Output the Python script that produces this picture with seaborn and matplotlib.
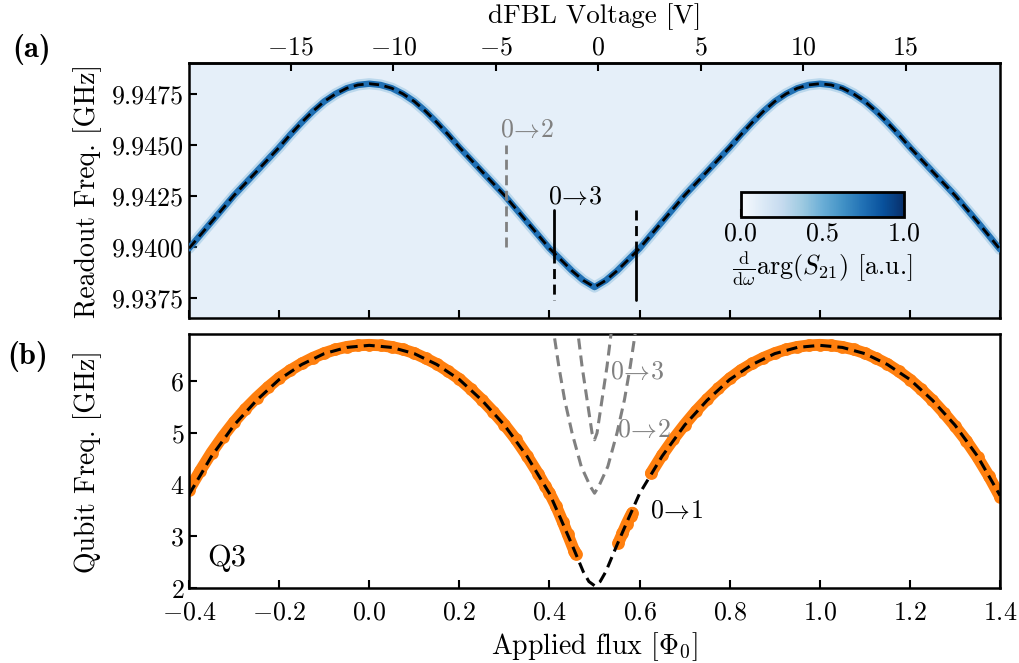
import matplotlib
matplotlib.use("Agg")
import matplotlib.pyplot as plt
import seaborn as sns
from matplotlib.cm import ScalarMappable
from matplotlib.colors import Normalize
from matplotlib.ticker import FormatStrFormatter

# ---------------- data ----------------
# (a) readout resonator frequency vs applied flux
ro_flux = [-0.40, -0.35, -0.30, -0.25, -0.20, -0.175, -0.15, -0.125, -0.10, -0.075, -0.05,
           -0.025, 0.00, 0.025, 0.05, 0.075, 0.10, 0.125, 0.15, 0.175,
           0.20, 0.25, 0.30, 0.35, 0.40, 0.45, 0.475, 0.50, 0.525, 0.55, 0.60, 0.65, 0.70,
           0.75, 0.80, 0.825, 0.85, 0.875, 0.90, 0.925, 0.95, 0.975, 1.00, 1.025, 1.05, 1.075,
           1.10, 1.125, 1.15, 1.175, 1.20, 1.25, 1.30, 1.35, 1.40]
ro_freq = [9.93995, 9.94125, 9.94255, 9.94372, 9.94490, 9.94553, 9.94612, 9.94667, 9.94715,
           9.94752, 9.94780, 9.94796, 9.94802, 9.94796, 9.94780, 9.94752, 9.94715, 9.94667,
           9.94612, 9.94553,
           9.94490, 9.94372, 9.94255, 9.94125, 9.93995, 9.93885, 9.93838, 9.93805, 9.93838,
           9.93885, 9.93995, 9.94125, 9.94255, 9.94372, 9.94490, 9.94553, 9.94612, 9.94667,
           9.94715, 9.94752, 9.94780, 9.94796, 9.94802, 9.94796, 9.94780, 9.94752, 9.94715,
           9.94667, 9.94612, 9.94553, 9.94490, 9.94372, 9.94255, 9.94125, 9.93990]
# 0->3 crossings in the readout fit (vertical features)
spike_flux = [0.411, 0.592]
spike_top = [9.94183, 9.94183]
spike_mid = [9.93970, 9.93977]
spike_bottom = [9.93742, 9.93742]
# 0->2 marker in panel (a)
mark02_flux = [0.304, 0.304]
mark02_freq = [9.9400, 9.9450]

# (b) qubit spectroscopy data (orange), three measured segments
segA_flux = [-0.40, -0.375, -0.35, -0.325, -0.30, -0.275, -0.25, -0.225, -0.20, -0.175, -0.15,
             -0.125, -0.10, -0.075, -0.05, -0.025, 0.00, 0.025, 0.05, 0.075, 0.10, 0.125, 0.15,
             0.175, 0.20, 0.225, 0.25, 0.275, 0.30, 0.325, 0.35, 0.375, 0.39, 0.40, 0.415, 0.43,
             0.44, 0.455, 0.458]
segA_freq = [3.90, 4.27, 4.62, 4.93, 5.21, 5.46, 5.68, 5.88, 6.06, 6.21, 6.34, 6.45, 6.54, 6.61,
             6.66, 6.69, 6.70, 6.69, 6.66, 6.61, 6.54, 6.44, 6.33, 6.19, 6.04, 5.85, 5.64, 5.41,
             5.16, 4.88, 4.56, 4.21, 3.98, 3.84, 3.58, 3.27, 3.05, 2.72, 2.66]
segB_flux = [0.553, 0.562, 0.571, 0.580, 0.584]
segB_freq = [2.88, 3.06, 3.24, 3.40, 3.46]
segC_flux = [0.625, 0.65, 0.675, 0.70, 0.725, 0.75, 0.775, 0.80, 0.825, 0.85, 0.875, 0.90, 0.925,
             0.95, 0.975, 1.00, 1.025, 1.05, 1.075, 1.10, 1.125, 1.15, 1.175, 1.20, 1.225, 1.25,
             1.275, 1.30, 1.325, 1.35, 1.375, 1.40]
segC_freq = [4.22, 4.57, 4.88, 5.16, 5.42, 5.65, 5.86, 6.05, 6.21, 6.34, 6.45, 6.54, 6.61, 6.66,
             6.69, 6.70, 6.69, 6.66, 6.61, 6.54, 6.44, 6.33, 6.19, 6.03, 5.84, 5.63, 5.39, 5.13,
             4.85, 4.53, 4.17, 3.77]
# (b) fitted 0->1 transition
fit_flux = [-0.40, -0.35, -0.30, -0.25, -0.20, -0.15, -0.10, -0.05, 0.00, 0.05, 0.10, 0.15, 0.20,
            0.25, 0.30, 0.35, 0.40, 0.425, 0.45, 0.475, 0.4875, 0.50, 0.5125, 0.525, 0.55, 0.575,
            0.60, 0.65, 0.70, 0.75, 0.80, 0.85, 0.90, 0.95, 1.00, 1.05, 1.10, 1.15, 1.20, 1.25,
            1.30, 1.35, 1.40]
fit_f01 = [3.81, 4.55, 5.15, 5.63, 6.03, 6.32, 6.53, 6.65, 6.69, 6.65, 6.53, 6.32, 6.03, 5.63,
           5.15, 4.55, 3.83, 3.34, 2.84, 2.32, 2.13, 2.05, 2.13, 2.32, 2.84, 3.34, 3.83, 4.55,
           5.15, 5.63, 6.03, 6.32, 6.53, 6.65, 6.69, 6.65, 6.53, 6.32, 6.03, 5.63, 5.15, 4.55, 3.79]
# higher transitions
f02_flux = [0.405, 0.4096, 0.4207, 0.4336, 0.4502, 0.4705, 0.4908, 0.50, 0.5092, 0.5295, 0.5498,
            0.5664, 0.5793, 0.5904, 0.595]
f02_freq = [7.15, 6.93, 6.285, 5.64, 4.996, 4.351, 3.964, 3.835, 3.964, 4.351, 4.996, 5.64,
            6.285, 6.93, 7.15]
f03_flux = [0.46, 0.4631, 0.4723, 0.4834, 0.4945, 0.50, 0.5055, 0.5166, 0.5277, 0.5369, 0.54]
f03_freq = [7.15, 6.93, 6.285, 5.64, 4.996, 4.867, 4.996, 5.64, 6.285, 6.93, 7.15]

flux_ticks = [-0.4, -0.2, 0.0, 0.2, 0.4, 0.6, 0.8, 1.0, 1.2, 1.4]
volt_ticks = [-15, -10, -5, 0, 5, 10, 15]
ro_ticks = [9.9375, 9.9400, 9.9425, 9.9450, 9.9475]
qb_ticks = [2, 3, 4, 5, 6]
cbar_ticks = [0.0, 0.5, 1.0]

# flux <-> dFBL voltage conversion
FLUX_AT_ZERO_V = 0.5078
FLUX_PER_VOLT = 0.0455

# ---------------- style ----------------
TICK_FS = 18.7
LABEL_FS = 20
sns.set_theme(style="ticks")
plt.rcParams.update({
    "font.family": "cmr10",
    "mathtext.fontset": "cm",
    "axes.formatter.use_mathtext": True,
    "font.size": TICK_FS,
    "axes.labelsize": LABEL_FS,
    "xtick.labelsize": TICK_FS,
    "ytick.labelsize": TICK_FS,
    "axes.linewidth": 1.8,
    "axes.edgecolor": "black",
    "axes.labelcolor": "black",
    "text.color": "black",
    "xtick.color": "black",
    "ytick.color": "black",
    "xtick.direction": "in",
    "ytick.direction": "in",
    "xtick.major.size": 6,
    "ytick.major.size": 6,
    "xtick.major.width": 1.5,
    "ytick.major.width": 1.5,
})

blues = plt.get_cmap("Blues")
ORANGE = "#ff7f0e"
GRAY = "#808080"
DASH = (0, (3.6, 2.0))


def arrow_label(a, b):
    return r"$%s\!\rightarrow\!%s$" % (a, b)


fig = plt.figure(figsize=(10.19, 6.63), dpi=100)
ax1 = fig.add_axes([0.1855, 0.5208, 0.7959, 0.3837])
ax2 = fig.add_axes([0.1855, 0.1127, 0.7959, 0.3836])

# ---------------- panel (a) ----------------
ax1.set_facecolor(blues(0.09))
sns.lineplot(x=ro_flux, y=ro_freq, ax=ax1, color=blues(0.55), lw=8, alpha=0.3,
             sort=False, estimator=None, zorder=2)
sns.lineplot(x=ro_flux, y=ro_freq, ax=ax1, color=blues(0.75), lw=4.6,
             sort=False, estimator=None, zorder=3)
sns.lineplot(x=ro_flux, y=ro_freq, ax=ax1, color="black", lw=2.0, linestyle=DASH,
             sort=False, estimator=None, zorder=4)
# vertical crossing features
sns.lineplot(x=[spike_flux[0]] * 2, y=[spike_top[0], spike_mid[0]], ax=ax1, color="black",
             lw=2.0, sort=False, estimator=None, zorder=4)
sns.lineplot(x=[spike_flux[0]] * 2, y=[spike_mid[0], spike_bottom[0]], ax=ax1, color="black",
             lw=2.0, linestyle=DASH, sort=False, estimator=None, zorder=4)
sns.lineplot(x=[spike_flux[1]] * 2, y=[spike_top[1], spike_mid[1]], ax=ax1, color="black",
             lw=2.0, linestyle=DASH, sort=False, estimator=None, zorder=4)
sns.lineplot(x=[spike_flux[1]] * 2, y=[spike_mid[1], spike_bottom[1]], ax=ax1, color="black",
             lw=2.0, sort=False, estimator=None, zorder=4)
sns.lineplot(x=mark02_flux, y=mark02_freq, ax=ax1, color=GRAY, lw=2.0, linestyle=DASH,
             sort=False, estimator=None, zorder=4)

ax1.text(0.290, 9.94575, arrow_label(0, 2), color=GRAY, ha="left", va="center", fontsize=TICK_FS)
ax1.text(0.397, 9.94247, arrow_label(0, 3), color="black", ha="left", va="center", fontsize=TICK_FS)

ax1.set_xlim(-0.4, 1.4)
ax1.set_ylim(9.93655, 9.94902)
ax1.set_xticks(flux_ticks)
ax1.set_yticks(ro_ticks)
ax1.yaxis.set_major_formatter(FormatStrFormatter("%.4f"))
ax1.tick_params(labelbottom=False, bottom=True, top=False, left=True, right=False)
ax1.set_xlabel("")
ax1.set_ylabel("Readout Freq. [GHz]")
ax1.yaxis.set_label_coords(-0.107, 0.5)

sec = ax1.secondary_xaxis(
    "top",
    functions=(lambda f: (f - FLUX_AT_ZERO_V) / FLUX_PER_VOLT,
               lambda v: v * FLUX_PER_VOLT + FLUX_AT_ZERO_V))
sec.set_xticks(volt_ticks)
sec.tick_params(direction="in", length=6, width=1.5, labelsize=TICK_FS, pad=3)
sec.set_xlabel("dFBL Voltage [V]", fontsize=19.5, labelpad=9)

cax = ax1.inset_axes([0.680, 0.397, 0.2014, 0.097])
cb = fig.colorbar(ScalarMappable(norm=Normalize(0, 1), cmap="Blues"), cax=cax,
                  orientation="horizontal", ticks=cbar_ticks)
cb.outline.set_linewidth(2.0)
cb.ax.xaxis.set_major_formatter(FormatStrFormatter("%.1f"))
cb.ax.tick_params(direction="in", length=6, width=1.5, labelsize=TICK_FS)
cb.set_label(r"$\frac{\mathrm{d}}{\mathrm{d}\omega}\arg(S_{21})$ [a.u.]", fontsize=TICK_FS,
             labelpad=3)

# ---------------- panel (b) ----------------
for fx, fy in ((segA_flux, segA_freq), (segB_flux, segB_freq), (segC_flux, segC_freq)):
    sns.lineplot(x=fx, y=fy, ax=ax2, color=ORANGE, lw=8.5, sort=False, estimator=None,
                 solid_capstyle="round", zorder=2)
    sns.scatterplot(x=fx, y=fy, ax=ax2, color=ORANGE, s=85, linewidth=0, zorder=2)

sns.lineplot(x=f02_flux, y=f02_freq, ax=ax2, color=GRAY, lw=2.2, linestyle=DASH,
             sort=False, estimator=None, zorder=3)
sns.lineplot(x=f03_flux, y=f03_freq, ax=ax2, color=GRAY, lw=2.2, linestyle=DASH,
             sort=False, estimator=None, zorder=3)
sns.lineplot(x=fit_flux, y=fit_f01, ax=ax2, color="black", lw=2.2, linestyle=DASH,
             sort=False, estimator=None, zorder=4)

ax2.text(0.534, 6.18, arrow_label(0, 3), color=GRAY, ha="left", va="center", fontsize=TICK_FS)
ax2.text(0.550, 5.06, arrow_label(0, 2), color=GRAY, ha="left", va="center", fontsize=TICK_FS)
ax2.text(0.623, 3.49, arrow_label(0, 1), color="black", ha="left", va="center", fontsize=TICK_FS)
ax2.text(-0.360, 2.58, "Q3", color="black", ha="left", va="center", fontsize=22)

ax2.set_xlim(-0.4, 1.4)
ax2.set_ylim(2, 6.91)
ax2.set_xticks(flux_ticks)
ax2.set_yticks(qb_ticks)
ax2.tick_params(top=False, right=False)
ax2.tick_params(axis="x", pad=9)
ax2.set_xlabel(r"Applied flux [$\Phi_0$]", labelpad=4)
ax2.set_ylabel("Qubit Freq. [GHz]")
ax2.yaxis.set_label_coords(-0.107, 0.5)

fig.text(0.012, 0.926, "(a)", fontfamily="cmb10", fontsize=22, ha="left", va="center")
fig.text(0.007, 0.463, "(b)", fontfamily="cmb10", fontsize=22, ha="left", va="center")

fig.savefig("out.png", dpi=100)
